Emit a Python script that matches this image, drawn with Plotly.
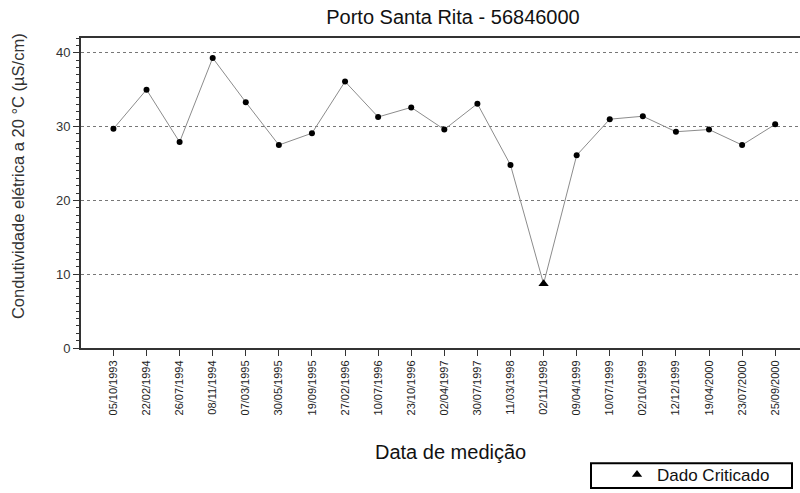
import plotly.graph_objects as go

FONT = 'Liberation Sans, Arial, sans-serif'

# data
dates = ['05/10/1993', '22/02/1994', '26/07/1994', '08/11/1994', '07/03/1995',
         '30/05/1995', '19/09/1995', '27/02/1996', '10/07/1996', '23/10/1996',
         '02/04/1997', '30/07/1997', '11/03/1998', '02/11/1998', '09/04/1999',
         '10/07/1999', '02/10/1999', '12/12/1999', '19/04/2000', '23/07/2000',
         '25/09/2000']
conductivity = [29.7, 35.0, 27.9, 39.3, 33.3, 27.5, 29.1, 36.1, 31.3, 32.6,
                29.6, 33.1, 24.8, 8.7, 26.1, 31.0, 31.4, 29.3, 29.6, 27.5, 30.3]
critical = [False] * 13 + [True] + [False] * 7

normal_x = [d for d, c in zip(dates, critical) if not c]
normal_y = [v for v, c in zip(conductivity, critical) if not c]
crit_x = [d for d, c in zip(dates, critical) if c]
crit_y = [v for v, c in zip(conductivity, critical) if c]

W, H = 800, 493
L, T, B = 81, 38, 143
PW, PH = W - L, H - T - B  # plot area in px


def px(x):  # page px -> paper x
    return (x - L) / PW


def py(y):  # page px -> paper y
    return (H - B - y) / PH


X_RANGE = [-0.98, 20.75]

fig = go.Figure()
fig.add_trace(go.Scatter(x=dates, y=conductivity, mode='lines',
                         line=dict(color='#8c8c8c', width=1), showlegend=False,
                         hoverinfo='skip'))
fig.add_trace(go.Scatter(x=normal_x, y=normal_y, mode='markers',
                         marker=dict(symbol='circle', color='black', size=6),
                         showlegend=False))
fig.add_trace(go.Scatter(x=crit_x, y=crit_y, mode='markers', name='Dado Criticado',
                         marker=dict(symbol='triangle-up', color='black', size=9)))

# box around the legend
fig.add_shape(type='rect', xref='paper', yref='paper',
              x0=px(591), x1=px(792), y0=py(491), y1=py(466),
              line=dict(color='black', width=2), fillcolor='white', layer='below')

# axis titles
fig.add_annotation(text='Data de medição', xref='paper', yref='paper',
                   x=px(450), y=py(455), showarrow=False, xanchor='center', yanchor='middle',
                   font=dict(size=20, color='#111111'))
fig.add_annotation(text='Condutividade elétrica a 20 °C (µS/cm)', xref='paper', yref='paper',
                   x=px(18), y=py(177), textangle=-90, showarrow=False,
                   xanchor='center', yanchor='middle',
                   font=dict(size=16.5, color='#333333'))

fig.update_layout(
    width=W, height=H,
    margin=dict(l=L, r=0, t=T, b=B),
    paper_bgcolor='white', plot_bgcolor='white',
    font=dict(family=FONT, color='#333333'),
    title=dict(text='Porto Santa Rita - 56846000', x=453 / W, xanchor='center',
               y=1 - 17 / H, yanchor='middle',
               font=dict(size=20, color='#111111')),
    xaxis=dict(type='category', range=X_RANGE, showgrid=False, automargin=False,
               showline=True, linecolor='#333333', linewidth=2, mirror=True,
               ticks='outside', ticklen=6, tickcolor='#333333', tickwidth=1,
               tickangle=-90, tickfont=dict(size=11, color='#222222')),
    # top ticks pointing into the plot
    xaxis2=dict(overlaying='x', side='top', range=X_RANGE, tickvals=list(range(len(dates))),
                showticklabels=False, ticks='inside', ticklen=6, tickcolor='#333333',
                showgrid=False, zeroline=False, showline=False, automargin=False),
    yaxis=dict(range=[0, 42], tickvals=[0, 10, 20, 30, 40], showgrid=True,
               gridcolor='#777777', griddash='dot', gridwidth=1, automargin=False,
               showline=True, linecolor='#333333', linewidth=2,
               ticks='outside', ticklen=6, tickcolor='#333333', tickwidth=1,
               minor=dict(dtick=1, ticks='outside', ticklen=3, tickcolor='#333333',
                          showgrid=False),
               tickfont=dict(size=13, color='#333333'), zeroline=False),
    legend=dict(x=px(617), y=py(478), xanchor='left', yanchor='middle',
                bgcolor='rgba(0,0,0,0)', font=dict(size=17, color='#111111')),
)

# the page body has a default 8px margin; drop it so the figure sits at 0,0
fig.write_html('out.html', config={'displayModeBar': False},
               post_script="document.body.style.margin='0';")
